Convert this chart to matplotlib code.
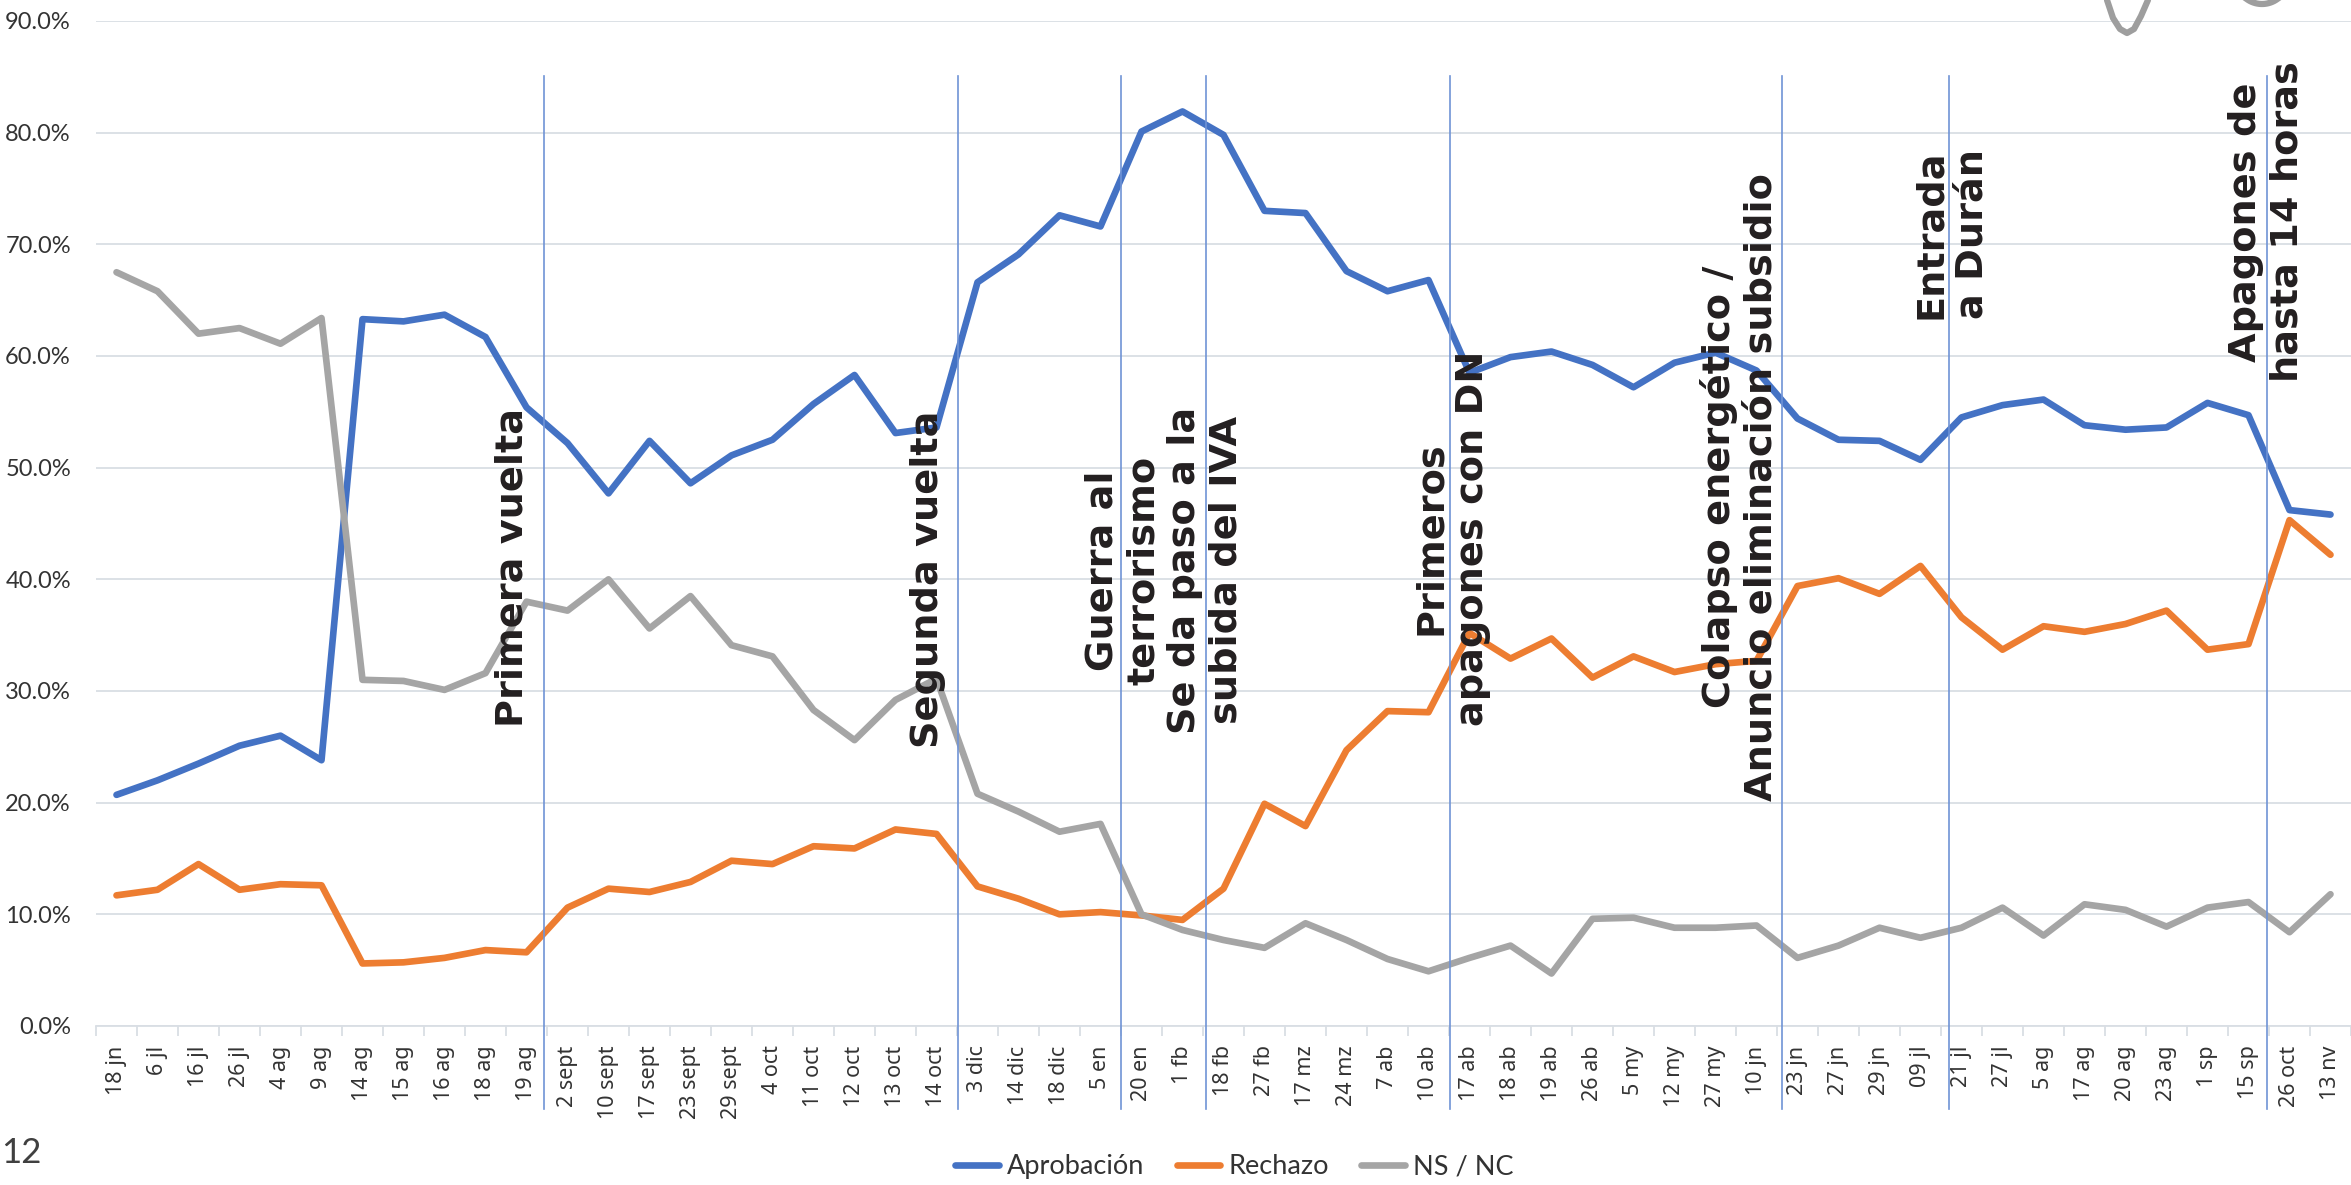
import numpy as np
import matplotlib.pyplot as plt
from matplotlib.lines import Line2D

# Fechas de las encuestas
fechas = ['18 jn', '6 jl', '16 jl', '26 jl', '4 ag', '9 ag', '14 ag', '15 ag', '16 ag', '18 ag',
          '19 ag', '2 sept', '10 sept', '17 sept', '23 sept', '29 sept', '4 oct', '11 oct', '12 oct',
          '13 oct', '14 oct', '3 dic', '14 dic', '18 dic', '5 en', '20 en', '1 fb', '18 fb', '27 fb',
          '17 mz', '24 mz', '7 ab', '10 ab', '17 ab', '18 ab', '19 ab', '26 ab', '5 my', '12 my',
          '27 my', '10 jn', '23 jn', '27 jn', '29 jn', '09 jl', '21 jl', '27 jl', '5 ag', '17 ag',
          '20 ag', '23 ag', '1 sp', '15 sp', '26 oct', '13 nv']

# Porcentajes (%)
aprobacion = [20.7, 22.0, 23.5, 25.1, 26.0, 23.8, 63.3, 63.1, 63.7, 61.7,
              55.4, 52.2, 47.7, 52.4, 48.6, 51.1, 52.5, 55.7, 58.3, 53.1,
              53.6, 66.6, 69.1, 72.6, 71.6, 80.1, 81.9, 79.8, 73.0, 72.8,
              67.6, 65.8, 66.8, 58.5, 59.9, 60.4, 59.2, 57.2, 59.4, 60.3,
              58.7, 54.4, 52.5, 52.4, 50.7, 54.5, 55.6, 56.1, 53.8, 53.4,
              53.6, 55.8, 54.7, 46.2, 45.8]
rechazo = [11.7, 12.2, 14.5, 12.2, 12.7, 12.6, 5.6, 5.7, 6.1, 6.8,
           6.6, 10.6, 12.3, 12.0, 12.9, 14.8, 14.5, 16.1, 15.9, 17.6,
           17.2, 12.5, 11.4, 10.0, 10.2, 9.9, 9.5, 12.3, 19.9, 17.9,
           24.7, 28.2, 28.1, 35.2, 32.9, 34.7, 31.2, 33.1, 31.7, 32.4,
           32.7, 39.4, 40.1, 38.7, 41.2, 36.6, 33.7, 35.8, 35.3, 36.0,
           37.2, 33.7, 34.2, 45.3, 42.2]
ns_nc = [67.5, 65.8, 62.0, 62.5, 61.1, 63.4, 31.0, 30.9, 30.1, 31.6,
         38.0, 37.2, 40.0, 35.6, 38.5, 34.1, 33.1, 28.3, 25.6, 29.2,
         31.1, 20.8, 19.2, 17.4, 18.1, 10.0, 8.6, 7.7, 7.0, 9.2,
         7.7, 6.0, 4.9, 6.1, 7.2, 4.7, 9.6, 9.7, 8.8, 8.8,
         9.0, 6.1, 7.2, 8.8, 7.9, 8.8, 10.6, 8.1, 10.9, 10.4,
         8.9, 10.6, 11.1, 8.4, 11.8]

# Eventos
eventos = ['Primera vuelta',
           'Segunda vuelta',
           'Guerra al\nterrorismo\nSe da paso a la\nsubida del IVA',
           'Primeros\napagones con DN',
           'Colapso energético /\nAnuncio eliminación subsidio',
           'Entrada\na Durán',
           'Apagones de\nhasta 14 horas']
lineas_evento = [10.42, 20.52, 24.5, 26.58, 32.53, 40.62, 44.7, 52.46]
texto_x = [9.67, 19.79, 25.56, 32.57, 39.6, 44.76, 52.44]
texto_y = [41.1, 40.0, 40.8, 43.7, 48.3, 70.9, 72.0]

fuente_estrecha = ['Lato', 'DejaVu Sans']

W, H = 2351, 1185
fig = plt.figure(figsize=(W / 100, H / 100), dpi=100)
ax = fig.add_axes([96 / W, 1 - 1026 / H, (W - 96) / W, (1026 - 21) / H])

x = np.arange(len(fechas))
estilo = dict(linewidth=4.8, solid_joinstyle='round', solid_capstyle='round', zorder=3)
ax.plot(x, aprobacion, color='#4472C4', label='Aprobación', **estilo)
ax.plot(x, rechazo, color='#ED7D31', label='Rechazo', **estilo)
ax.plot(x, ns_nc, color='#A5A5A5', label='NS / NC', **estilo)

ax.set_xlim(-0.5, 54.37)
ax.set_ylim(0, 90)
ax.set_yticks(np.arange(0, 91, 10))
ax.set_yticklabels([f'{v:.1f}%' for v in np.arange(0, 91, 10)],
                   fontfamily=fuente_estrecha, fontsize=17, color='#333333')
ax.grid(axis='y', color='#d9dee4', linewidth=1.3, zorder=0)
ax.tick_params(axis='y', length=0, pad=18)

ax.set_xticks(x)
ax.set_xticklabels(fechas, rotation=90, fontfamily=['Noto Sans', 'DejaVu Sans'], fontsize=15.5,
                   color='#333333', va='top')
ax.set_xticks(np.arange(-0.5, 54.6, 1), minor=True)
ax.tick_params(axis='x', which='major', length=0, pad=14)
ax.tick_params(axis='x', which='minor', length=7, width=1.3, color='#d9dee4')

for s in ['top', 'right', 'left']:
    ax.spines[s].set_visible(False)
ax.spines['bottom'].set_color('#d9dee4')
ax.spines['bottom'].set_linewidth(1.3)

for xv in lineas_evento:
    ax.axvline(xv, ymin=-0.083, ymax=0.945, color='#6f93d6', linewidth=1.2,
               clip_on=False, zorder=4)

for txt, tx, ty in zip(eventos, texto_x, texto_y):
    ax.text(tx, ty, txt, rotation=90, ha='center', va='center', multialignment='center',
            fontsize=27.5, fontweight='bold', color='#231f20', linespacing=1.19, zorder=5)

fig.legend(loc='center', bbox_to_anchor=(0.525, 0.0155), ncol=3, frameon=False,
           prop={'family': fuente_estrecha, 'size': 19.5},
           handlelength=1.6, handletextpad=0.3, columnspacing=1.2, labelcolor='#333333')

# Número de página y logo recortado
fig.text(1 / W, 1 - 1163 / H, '12', ha='left', va='baseline', fontsize=25,
         fontfamily=fuente_estrecha, color='#404040')
lx = np.array([2107, 2113, 2120, 2127, 2134, 2141, 2148])
ly = np.array([0, 18, 29, 33, 29, 16, 0])
fig.add_artist(Line2D(lx / W, 1 - ly / H, transform=fig.transFigure, color='#9e9e9e',
                      linewidth=4.5, solid_capstyle='round'))
t = np.linspace(0.15 * np.pi, 0.85 * np.pi, 30)
fig.add_artist(Line2D((2262 + 26 * np.cos(t)) / W, 1 - (-22 + 26 * np.sin(t)) / H,
                      transform=fig.transFigure, color='#9e9e9e', linewidth=4.5))

fig.savefig('out.png', dpi=100)
